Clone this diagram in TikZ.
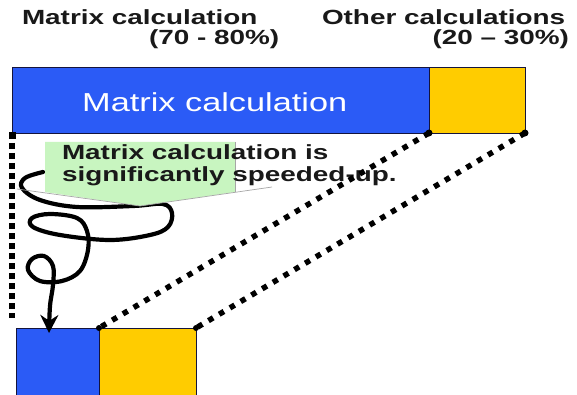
\documentclass[tikz,border=0pt]{standalone}
\usepackage{fontspec}
\setmainfont{Liberation Sans}
\newfontfamily\lblfont[FakeStretch=1.36]{Liberation Sans}
\newfontfamily\barfont[FakeStretch=1.32]{Liberation Sans}
\usetikzlibrary{arrows.meta}
\definecolor{barblue}{RGB}{43,91,246}
\definecolor{baryellow}{RGB}{255,204,0}
\definecolor{callgreen}{RGB}{200,245,192}
\definecolor{edgecol}{RGB}{20,20,60}
\definecolor{ink}{RGB}{25,25,25}
\tikzset{
  box/.style={draw=edgecol, line width=0.8pt, inner sep=0pt, outer sep=0pt},
  bluebox/.style={box, fill=barblue},
  yellowbox/.style={box, fill=baryellow},
  lbl/.style={font=\lblfont\bfseries\fontsize{20.5}{25}\selectfont, text=ink, inner sep=0pt, outer sep=0pt},
  bartext/.style={font=\barfont\fontsize{26}{30}\selectfont, text=white, inner sep=0pt, anchor=base west},
  dotline/.style={line width=5.5pt, dash pattern=on 5.5pt off 7pt},
  vdotline/.style={line width=6pt, dash pattern=on 6pt off 4pt},
  curl/.style={line width=4.2pt, line cap=round, line join=round, -{Stealth[length=18pt,width=18pt]}},
  calloutline/.style={draw=gray!70, line width=0.7pt}
}
\begin{document}
\begin{tikzpicture}[x=1pt,y=-1pt]
\clip (0,0) rectangle (577,395);
\fill[white] (0,0) rectangle (577,395);

% top labels
\node[lbl, anchor=base west] (t1) at (22,25) {Matrix calculation};
\node[lbl, anchor=base west] (t2) at (149,45) {(70 - 80\%)};
\node[lbl, anchor=base west] (t3) at (322,25) {Other calculations};
\node[lbl, anchor=base east] (t4) at (569,45) {(20 – 30\%)};

% big bar
\node[bluebox, minimum width=417pt, minimum height=66pt] (bigB) at (220.5,100) {};
\node[yellowbox, minimum width=96pt, minimum height=66pt] (bigY) at (477,100) {};
\node[bartext] (bt) at (82,112) {Matrix calculation};

% small bar
\node[bluebox, minimum width=83pt, minimum height=70pt] (smB) at (57.5,363) {};
\node[yellowbox, minimum width=97pt, minimum height=70pt] (smY) at (147.5,363) {};

% curly arrow
\coordinate (curlstart) at (43,172);
\draw[curl] plot[smooth, tension=0.6] coordinates {
  (43,172) (25,178) (22,188) (40,200) (77,207) (133,206) (163,204)
  (172,213) (168,227) (150,235) (110,240) (60,235) (33,227) (32,218)
  (50,214) (77,218) (87,231) (88,250) (80,271) (62,281) (40,281)
  (28,270) (32,259) (44,256) (53,266) (53,285) (50,306) (49,333)};

% callout
\fill[callgreen] (45,142) -- (235,142) -- (235,192) -- (140,206) -- (45,192) -- cycle;
\draw[calloutline] (17,189) -- (140,206) -- (272,187);
\draw[calloutline] (235,142) -- (235,192);
\node[lbl, anchor=base west] (c1) at (62,160) {Matrix calculation is};
\node[lbl, anchor=base west] (c2) at (62,182) {significantly speeded-up.};

% dotted connectors
\coordinate (vend) at (12,318);
\draw[vdotline] (bigB.south west) -- (vend);
\draw[dotline] (bigY.south west) -- (smY.north west);
\draw[dotline] (bigY.south east) -- (smY.north east);
\fill (bigB.south west) ++(-3.5,-1) rectangle ++(7,7);
\fill (bigY.south west) circle (3.5pt);
\fill (bigY.south east) circle (3.5pt);
\fill (smY.north west) circle (3pt);
\fill (smY.north east) circle (3pt);
\end{tikzpicture}
\end{document}
